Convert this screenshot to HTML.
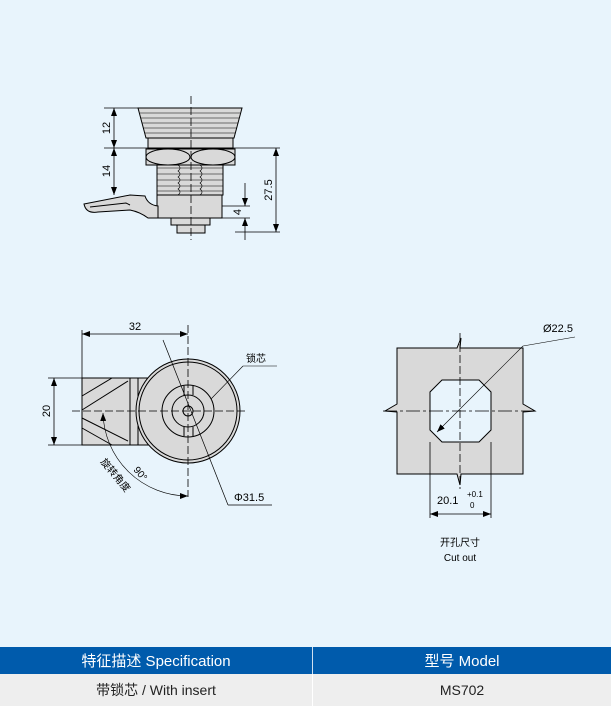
<!DOCTYPE html>
<html><head><meta charset="utf-8"><style>
body{margin:0;width:611px;height:706px;background:#e8f4fc;position:relative;overflow:hidden;font-family:"Liberation Sans","Noto Sans CJK SC",sans-serif}
svg{position:absolute;left:0;top:0}
.tb{position:absolute;left:0;width:611px;font-size:14px;display:flex}
.tb div{display:flex;align-items:center;justify-content:center}
</style></head><body>
<svg width="611" height="706" viewBox="0 0 611 706" font-family="Liberation Sans, Noto Sans CJK SC, sans-serif">
<defs><marker id="a" markerWidth="8" markerHeight="6" refX="8" refY="3" orient="auto-start-reverse" markerUnits="userSpaceOnUse"><path d="M0,0 L8,3 L0,6z" fill="#000"/></marker></defs>
<g stroke="#000" stroke-width="1" fill="#d9d9d9">
<!-- top view -->
<path d="M138,108 L242,108 L234,138 L146,138 Z"/>
<g stroke-width="0.6"><line x1="140" y1="113" x2="240" y2="113"/><line x1="141" y1="118" x2="239" y2="118"/><line x1="142" y1="123" x2="238" y2="123"/><line x1="143" y1="128" x2="237" y2="128"/><line x1="145" y1="133" x2="235" y2="133"/></g>
<rect x="148" y="138" width="85" height="10"/>
<rect x="157" y="163" width="66" height="32"/>
<g stroke-width="0.6" fill="none"><line x1="157" y1="168" x2="223" y2="168"/><line x1="157" y1="174" x2="223" y2="174"/><line x1="157" y1="180" x2="223" y2="180"/><line x1="157" y1="186" x2="223" y2="186"/><line x1="157" y1="191" x2="223" y2="191"/>
<path d="M178,165 q4,3 0,6 q4,3 0,6 q4,3 0,6 q4,3 0,6 q4,3 0,6"/><path d="M200,165 q4,3 0,6 q4,3 0,6 q4,3 0,6 q4,3 0,6 q4,3 0,6"/></g>
<rect x="146" y="149" width="89" height="16"/>
<ellipse cx="168" cy="157" rx="22" ry="8"/><ellipse cx="213" cy="157" rx="22" ry="8"/>
<rect x="157" y="195" width="65" height="23"/>
<path d="M84,204 L130,195 L145,196 Q148,205 158,206 L158,218 L148,218 Q140,212 130,210 L98,212 Q86,214 84,204 Z"/>
<path d="M90,207 L126,203 L130,205" fill="none"/>
<rect x="171" y="218" width="39" height="7"/>
<rect x="177" y="225" width="28" height="8"/>
</g>
<g stroke="#000" stroke-width="0.8" fill="none">
<line x1="191" y1="96" x2="191" y2="240" stroke-dasharray="8,3"/>
<line x1="104" y1="108" x2="138" y2="108"/><line x1="104" y1="148" x2="280" y2="148"/><line x1="235" y1="232" x2="280" y2="232"/>
<line x1="114" y1="108" x2="114" y2="148" marker-start="url(#a)" marker-end="url(#a)"/>
<line x1="114" y1="148" x2="114" y2="195" marker-start="url(#a)" marker-end="url(#a)"/>
<line x1="276" y1="148" x2="276" y2="232" marker-start="url(#a)" marker-end="url(#a)"/>
<line x1="222" y1="206" x2="250" y2="206"/><line x1="222" y1="218" x2="250" y2="218"/>
<line x1="245" y1="183" x2="245" y2="206" marker-end="url(#a)"/><line x1="245" y1="240" x2="245" y2="218" marker-end="url(#a)"/>
</g>
<g font-size="11" fill="#000">
<text transform="translate(110,128) rotate(-90)" text-anchor="middle">12</text>
<text transform="translate(110,171) rotate(-90)" text-anchor="middle">14</text>
<text transform="translate(272,190) rotate(-90)" text-anchor="middle">27.5</text>
<text transform="translate(241,212) rotate(-90)" text-anchor="middle">4</text>
</g>
<!-- front view -->
<g stroke="#000" stroke-width="1" fill="#d9d9d9">
<rect x="82" y="378" width="70" height="67"/>
<g fill="none"><line x1="130" y1="378" x2="130" y2="445"/><line x1="138" y1="378" x2="138" y2="445"/>
<line x1="82" y1="396" x2="112" y2="378"/><line x1="82" y1="410" x2="128" y2="381"/><line x1="82" y1="418" x2="128" y2="441"/><line x1="82" y1="428" x2="112" y2="445"/></g>
<circle cx="188" cy="411" r="52"/><circle cx="188" cy="411" r="49" fill="none"/>
<circle cx="188" cy="411" r="26" fill="none"/><circle cx="188" cy="411" r="16" fill="none"/><circle cx="188" cy="411" r="5" fill="none"/>
<path d="M184,386 L184,395 M193,386 L193,395 M184,427 L184,436 M193,427 L193,436" fill="none"/>
</g>
<g stroke="#000" stroke-width="0.8" fill="none">
<line x1="82" y1="330" x2="82" y2="445"/>
<line x1="188" y1="325" x2="188" y2="497" stroke-dasharray="8,3"/>
<line x1="72" y1="411" x2="248" y2="411" stroke-dasharray="8,3"/>
<line x1="82" y1="334" x2="188" y2="334" marker-start="url(#a)" marker-end="url(#a)"/>
<line x1="48" y1="378" x2="82" y2="378"/><line x1="48" y1="445" x2="82" y2="445"/>
<line x1="54" y1="378" x2="54" y2="445" marker-start="url(#a)" marker-end="url(#a)"/>
<path d="M103,413 A85,85 0 0 0 188,496" marker-start="url(#a)" marker-end="url(#a)" stroke-width="0.6"/>
<line x1="163" y1="340" x2="228" y2="505" stroke-width="0.7"/><line x1="228" y1="505" x2="272" y2="505" stroke-width="0.7"/>
<line x1="211" y1="399" x2="243" y2="366" stroke-width="0.6"/><line x1="243" y1="366" x2="277" y2="366" stroke-width="0.6"/>
</g>
<g font-size="11" fill="#000">
<text x="135" y="330" text-anchor="middle">32</text>
<text transform="translate(50,411) rotate(-90)" text-anchor="middle">20</text>
<text x="246" y="362" font-size="10">锁芯</text>
<text x="234" y="501">Φ31.5</text>
<text transform="translate(133,470) rotate(50)" font-size="10">90°</text>
<text transform="translate(100,462) rotate(50)" font-size="10">旋转角度</text>
</g>
<!-- cutout -->
<path d="M397,348 L457,348 L461,338 L460,348 L523,348 L523,404 L535,411 L523,412 L523,474 L461,474 L460,485 L457,474 L397,474 L397,412 L385,411 L397,404 Z" fill="#d9d9d9" stroke="#000"/>
<path d="M442,380 L479,380 L491,392 L491,430 L479,442 L442,442 L430,430 L430,392 Z" fill="#e8f4fc" stroke="#000"/>
<g stroke="#000" stroke-width="0.8" fill="none">
<line x1="460" y1="333" x2="460" y2="489" stroke-dasharray="8,3"/>
<line x1="383" y1="411" x2="535" y2="411" stroke-dasharray="14,3,3,3"/>
<line x1="430" y1="442" x2="430" y2="518"/><line x1="491" y1="442" x2="491" y2="518"/>
<line x1="430" y1="514" x2="491" y2="514" marker-start="url(#a)" marker-end="url(#a)"/>
<line x1="437" y1="432" x2="523" y2="346" stroke-width="0.6" marker-start="url(#a)"/><line x1="523" y1="346" x2="575" y2="337" stroke-width="0.6"/>
</g>
<g font-size="11" fill="#000">
<text x="543" y="332">Ø22.5</text>
<text x="437" y="504">20.1</text>
<text x="467" y="497" font-size="8">+0.1</text>
<text x="470" y="508" font-size="8">0</text>
<text x="460" y="546" text-anchor="middle" font-size="10">开孔尺寸</text>
<text x="460" y="561" text-anchor="middle" font-size="10">Cut out</text>
</g>
</svg>
<div class="tb" style="top:647px;height:27px;background:#005bac;color:#fff;font-size:15px">
<div style="width:312px;border-right:1px solid #d0e0f0">特征描述 Specification</div><div style="flex:1">型号 Model</div></div>
<div class="tb" style="top:674px;height:32px;background:#eeeeee;color:#222">
<div style="width:312px;border-right:1px solid #fff">带锁芯 / With insert</div><div style="flex:1">MS702</div></div>
</body></html>
